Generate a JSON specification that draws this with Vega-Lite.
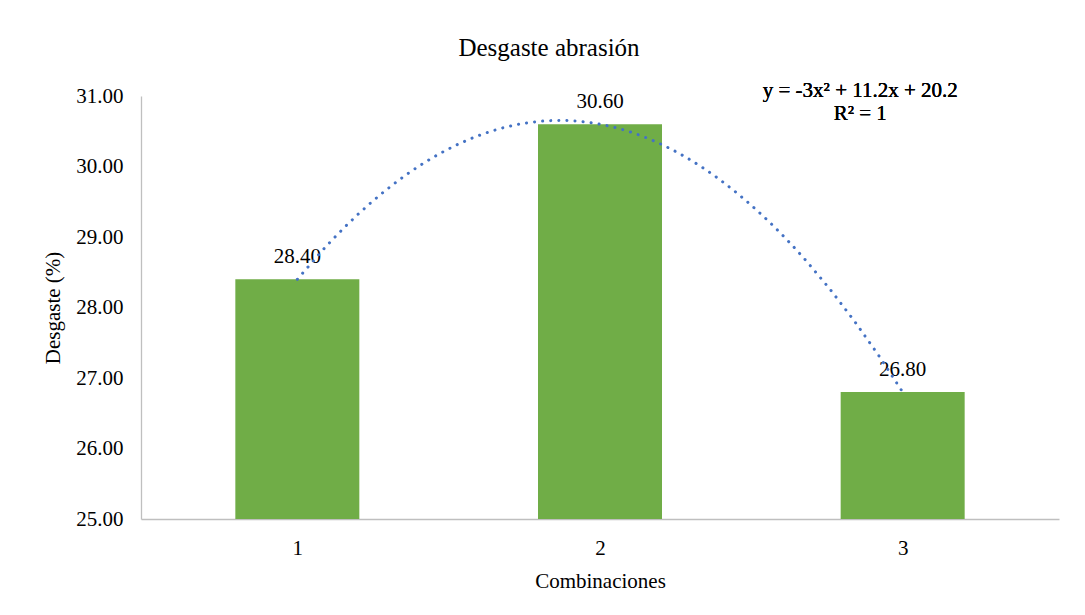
{
  "$schema": "https://vega.github.io/schema/vega-lite/v6.json",
  "width": 918,
  "height": 423,
  "autosize": {"type": "none"},
  "padding": {"left": 141, "top": 96, "right": 26, "bottom": 96},
  "background": "white",
  "title": {
    "text": "Desgaste abrasión",
    "font": "Liberation Serif",
    "fontSize": 25,
    "fontWeight": "normal",
    "color": "black",
    "anchor": "middle",
    "dx": -51,
    "offset": 19
  },
  "data": {
    "values": [
      {"combo": 1, "value": 28.4},
      {"combo": 2, "value": 30.6},
      {"combo": 3, "value": 26.8}
    ]
  },
  "config": {
    "view": {"stroke": null},
    "axis": {
      "labelFont": "Liberation Serif",
      "titleFont": "Liberation Serif",
      "labelFontSize": 21,
      "titleFontSize": 21,
      "labelColor": "black",
      "titleColor": "black",
      "titleFontWeight": "normal",
      "domainColor": "#BFBFBF",
      "domainWidth": 1.3,
      "ticks": false,
      "tickSize": 0,
      "grid": false
    }
  },
  "layer": [
    {
      "mark": {"type": "bar", "color": "#70AD47", "width": 124},
      "encoding": {
        "x": {
          "field": "combo",
          "type": "quantitative",
          "scale": {"domain": [0.5, 3.5], "nice": false, "zero": false},
          "axis": {"values": [1, 2, 3], "format": "d", "title": "Combinaciones", "labelPadding": 18, "titlePadding": 12}
        },
        "y": {
          "field": "value",
          "type": "quantitative",
          "scale": {"domain": [25, 31], "nice": false, "zero": false},
          "axis": {"values": [25, 26, 27, 28, 29, 30, 31], "format": ".2f", "title": "Desgaste (%)", "labelPadding": 18, "titlePadding": 12}
        },
        "y2": {"datum": 25}
      }
    },
    {
      "mark": {"type": "text", "font": "Liberation Serif", "fontSize": 21, "dy": -16, "baseline": "alphabetic", "color": "black"},
      "encoding": {
        "x": {"field": "combo", "type": "quantitative"},
        "y": {"field": "value", "type": "quantitative"},
        "text": {"field": "value", "type": "quantitative", "format": ".2f"}
      }
    },
    {
      "transform": [{"regression": "value", "on": "combo", "method": "poly", "order": 2, "extent": [1, 3]}],
      "mark": {"type": "line", "color": "#4472C4", "strokeWidth": 3, "strokeDash": [0.1, 8], "strokeCap": "round"},
      "encoding": {
        "x": {"field": "combo", "type": "quantitative"},
        "y": {"field": "value", "type": "quantitative"}
      }
    },
    {
      "mark": {
        "type": "text",
        "font": "Liberation Serif",
        "fontSize": 21,
        "fontWeight": "normal",
        "color": "black",
        "align": "center",
        "baseline": "alphabetic",
        "lineHeight": 23,
        "text": ["y = -3x² + 11.2x + 20.2", "R² = 1"]
      },
      "encoding": {
        "x": {"datum": 2.86, "type": "quantitative"},
        "y": {"datum": 30.99, "type": "quantitative"}
      }
    }
  ]
}
